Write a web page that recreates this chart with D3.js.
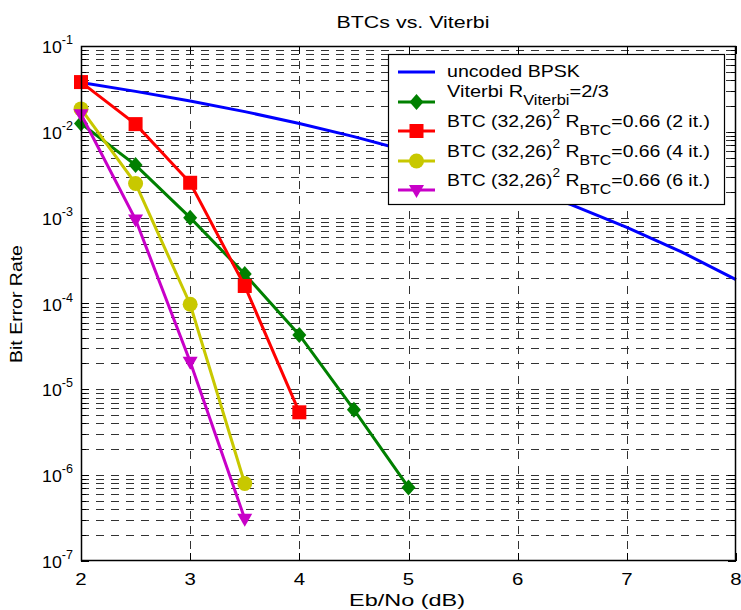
<!DOCTYPE html>
<html><head><meta charset="utf-8">
<script src="https://cdn.jsdelivr.net/npm/d3@7"></script>
<style>body{margin:0;background:#fff}svg{display:block}text{font-family:"Liberation Sans",Arial,sans-serif;fill:#000}</style>
</head><body><svg id="c" width="741" height="610"></svg>
<script>
const ebno = [2,2.5,3,3.5,4,4.5,5,5.5,6,6.5,7,7.5,8];
const uncoded = [3.75e-2,2.96e-2,2.29e-2,1.72e-2,1.25e-2,8.8e-3,5.95e-3,3.86e-3,2.39e-3,1.40e-3,7.7e-4,4.0e-4,1.9e-4];
const viterbiX = [2,2.5,3,3.5,4,4.5,5];
const viterbi = [1.25e-2,4.1e-3,1.0e-3,2.2e-4,4.3e-5,5.8e-6,7.2e-7];
const btc2X = [2,2.5,3,3.5,4];
const btc2 = [3.8e-2,1.23e-2,2.55e-3,1.6e-4,5.4e-6];
const btc4X = [2,2.5,3,3.5];
const btc4 = [1.85e-2,2.5e-3,9.8e-5,8.0e-7];
const btc6X = [2,2.5,3,3.5];
const btc6 = [1.6e-2,9.5e-4,2.1e-5,3.1e-7];
const xTicks = [2,3,4,5,6,7,8];
const yTickExp = [-1,-2,-3,-4,-5,-6,-7];
const title = "BTCs vs. Viterbi";
const xLabel = "Eb/No (dB)";
const yLabel = "Bit Error Rate";

const SX = 1.2;
const svg = d3.select("#c");
const L=81,R=736,T=46,B=561;
const x = d3.scaleLinear().domain([2,8]).range([L,R]);
const y = d3.scaleLog().domain([1e-7,1e-1]).range([B,T]);

// text with horizontal stretch; if width given, stretch fitted to that width
function txt(g, px, py, anchor, size, parts, rot, width){
  const t = g.append("text")
    .attr("text-anchor", anchor).attr("font-size", size);
  parts.forEach(p=>{
    const s = t.append("tspan").text(p.t);
    if(p.dy) s.attr("dy", p.dy);
    if(p.fs) s.attr("font-size", p.fs);
  });
  let sx = SX;
  if(width){ const w = t.node().getComputedTextLength(); if(w>0) sx = width/w; }
  t.attr("transform", `translate(${px},${py})` + (rot?` rotate(${rot})`:"") + ` scale(${sx},1)`);
  return t;
}

// grid
const grid = svg.append("g").attr("stroke","#000").attr("stroke-width",1).attr("stroke-dasharray","8,7").attr("opacity",0.8).attr("shape-rendering","crispEdges");
const minorVals = [];
for(let e=-7;e<-1+1e-9;e++){ for(let m=1;m<10;m++){ const v=m*Math.pow(10,e); if(v<=1e-1*1.0001 && v>1e-7*1.0001) minorVals.push(v);} }
minorVals.forEach(v=>{ grid.append("line").attr("x1",L).attr("x2",R).attr("y1",Math.round(y(v))+0.5).attr("y2",Math.round(y(v))+0.5); });
xTicks.slice(1,-1).forEach(v=>{ grid.append("line").attr("x1",Math.round(x(v))+0.5).attr("x2",Math.round(x(v))+0.5).attr("y1",T).attr("y2",B); });

// ticks
const tk = svg.append("g").attr("stroke","#000").attr("stroke-width",1).attr("shape-rendering","crispEdges");
const allY = minorVals.concat([1e-7]);
allY.forEach(v=>{
  const isMaj = Math.abs(Math.log10(v)-Math.round(Math.log10(v)))<1e-6;
  const len = isMaj?8:5; const yy=Math.round(y(v))+0.5;
  tk.append("line").attr("x1",L).attr("x2",L+len).attr("y1",yy).attr("y2",yy);
  tk.append("line").attr("x1",R-len).attr("x2",R).attr("y1",yy).attr("y2",yy);
});
xTicks.forEach(v=>{
  const xx=Math.round(x(v))+0.5;
  tk.append("line").attr("x1",xx).attr("x2",xx).attr("y1",B).attr("y2",B-8);
  tk.append("line").attr("x1",xx).attr("x2",xx).attr("y1",T).attr("y2",T+8);
});

// axes labels
const lab = svg.append("g");
xTicks.forEach(v=> txt(lab, x(v), 585, "middle", 17, [{t:String(v)}]));
yTickExp.forEach(e=> txt(lab, 73, y(Math.pow(10,e))+7, "end", 17, [{t:"10"},{t:String(e),fs:12,dy:-9}], 0, 31));
txt(lab, 413, 28, "middle", 17, [{t:title}], 0, 153);
txt(lab, 407, 606, "middle", 17, [{t:xLabel}], 0, 116);
txt(lab, 22, 304, "middle", 16, [{t:yLabel}], -90, 118);

// data
const series = [
  {xs:ebno, ys:uncoded, color:"#0000ff", marker:null},
  {xs:viterbiX, ys:viterbi, color:"#008000", marker:"diamond"},
  {xs:btc2X, ys:btc2, color:"#ff0000", marker:"square"},
  {xs:btc4X, ys:btc4, color:"#c8c800", marker:"circle"},
  {xs:btc6X, ys:btc6, color:"#c800c8", marker:"tri"}
];
function drawMarker(g, type, cx, cy, color){
  if(type==="square") g.append("rect").attr("x",cx-7).attr("y",cy-7).attr("width",14).attr("height",14).attr("fill",color);
  else if(type==="diamond") g.append("path").attr("d",`M${cx},${cy-8}L${cx+7},${cy}L${cx},${cy+8}L${cx-7},${cy}Z`).attr("fill",color);
  else if(type==="circle") g.append("circle").attr("cx",cx).attr("cy",cy).attr("r",7.5).attr("fill",color);
  else if(type==="tri") g.append("path").attr("d",`M${cx-7.5},${cy-5}L${cx+7.5},${cy-5}L${cx},${cy+8}Z`).attr("fill",color);
}
const plot = svg.append("g");
const line = d3.line().x(d=>x(d[0])).y(d=>y(d[1]));
series.forEach(s=>{
  const pts = s.xs.map((v,i)=>[v,s.ys[i]]);
  plot.append("path").attr("d",line(pts)).attr("fill","none").attr("stroke",s.color).attr("stroke-width",3);
  if(s.marker) pts.forEach(p=>drawMarker(plot,s.marker,x(p[0]),y(p[1]),s.color));
});

// axis box
svg.append("rect").attr("x",L+0.5).attr("y",T+0.5).attr("width",R-L-1).attr("height",B-T-1).attr("fill","none").attr("stroke","#000").attr("stroke-width",1.5);

// legend
const lg = svg.append("g");
lg.append("rect").attr("x",388.5).attr("y",54.5).attr("width",336).attr("height",150).attr("fill","#fff").attr("stroke","#000").attr("stroke-width",1.2);
const legendTexts = [
  [{t:"uncoded BPSK"}],
  [{t:"Viterbi R"},{t:"Viterbi",dy:8,fs:14},{t:"=2/3",dy:-8}],
  [{t:"BTC (32,26)"},{t:"2",dy:-9,fs:12},{t:" R",dy:9},{t:"BTC",dy:8,fs:14},{t:"=0.66 (2 it.)",dy:-8}],
  [{t:"BTC (32,26)"},{t:"2",dy:-9,fs:12},{t:" R",dy:9},{t:"BTC",dy:8,fs:14},{t:"=0.66 (4 it.)",dy:-8}],
  [{t:"BTC (32,26)"},{t:"2",dy:-9,fs:12},{t:" R",dy:9},{t:"BTC",dy:8,fs:14},{t:"=0.66 (6 it.)",dy:-8}]
];
const legendW = [133,162,263,263,263];
const rowY = [72,102,131,161,190];
const baseOff = [5,-5,-4,-4,-4];
series.forEach((s,i)=>{
  const yy=rowY[i];
  lg.append("line").attr("x1",398).attr("x2",435).attr("y1",yy).attr("y2",yy).attr("stroke",s.color).attr("stroke-width",3);
  if(s.marker) drawMarker(lg,s.marker,416.5,yy,s.color);
  txt(lg, 447, yy+baseOff[i], "start", 17, legendTexts[i], 0, legendW[i]);
});
</script></body></html>
